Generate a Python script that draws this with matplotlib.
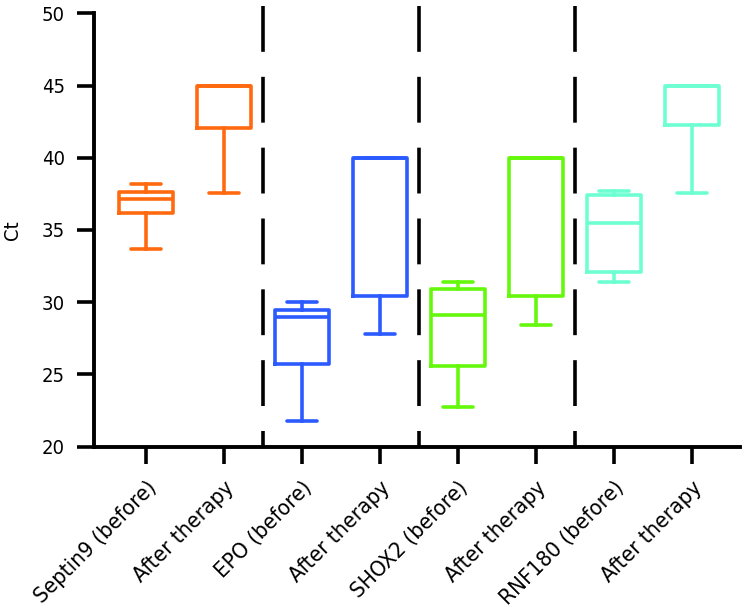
import matplotlib
matplotlib.use("Agg")
import matplotlib.pyplot as plt
from matplotlib import font_manager

categories = ["Septin9 (before)", "After therapy", "EPO (before)", "After therapy",
              "SHOX2 (before)", "After therapy", "RNF180 (before)", "After therapy"]
whislo = [33.7, 37.55, 21.75, 27.8, 22.75, 28.4, 31.4, 37.55]
q1     = [36.15, 42.05, 25.7, 30.4, 25.6, 30.4, 32.1, 42.3]
median = [37.15, 45.0, 28.95, 40.0, 29.1, 40.0, 35.45, 45.0]
q3     = [37.6, 45.0, 29.45, 40.0, 30.95, 40.0, 37.4, 45.0]
whishi = [38.2, 45.0, 30.05, 40.0, 31.4, 40.0, 37.7, 45.0]
colors = ["#FF6A10", "#FF6A10", "#2B5BFF", "#2B5BFF",
          "#66F80C", "#66F80C", "#6DFFD2", "#6DFFD2"]
separators = [2.5, 4.5, 6.5]
yticks = [20, 25, 30, 35, 40, 45, 50]

has_cond = any('DejaVuSansCondensed' in f.fname or f.stretch == 'condensed'
               for f in font_manager.fontManager.ttflist if 'DejaVu' in f.name)
plt.rcParams['font.family'] = ['DejaVu Sans']
plt.rcParams['font.stretch'] = 'condensed' if has_cond else 'normal'
plt.rcParams['lines.scale_dashes'] = False

fig = plt.figure(figsize=(7.48, 6.09), dpi=100)
ax = fig.add_axes([0.1257, 0.2665, 0.8633, 0.7117])

positions = list(range(1, len(categories) + 1))
for i, pos in enumerate(positions):
    st = [dict(med=median[i], q1=q1[i], q3=q3[i], whislo=whislo[i], whishi=whishi[i], fliers=[])]
    c = colors[i]
    ax.bxp(st, positions=[pos], widths=0.7, capwidths=0.38, showfliers=False,
           boxprops=dict(color=c, linewidth=2.6, solid_joinstyle='round'),
           medianprops=dict(color=c, linewidth=2.6, solid_capstyle='butt'),
           whiskerprops=dict(color=c, linewidth=2.6),
           capprops=dict(color=c, linewidth=2.6, solid_capstyle='round'),
           manage_ticks=False)

for s in separators:
    ax.plot([s, s], [50.5, 20], color='black', linewidth=2.6,
            dashes=(33, 18), clip_on=False, zorder=1)

xfs = 16 if has_cond else 14.5
yfs = 14.5 if has_cond else 13.5
ax.set_xlim(0.333, 8.615)
ax.set_ylim(20, 50)
ax.set_yticks(yticks)
ax.set_xticks(positions)
ax.set_xticklabels(categories, rotation=45, ha='right', va='top',
                   rotation_mode='anchor', fontsize=xfs)
ax.tick_params(axis='y', labelsize=yfs, length=12, width=2.6, pad=9)
ax.tick_params(axis='x', length=12, width=2.6, pad=10)
for side in ['top', 'right']:
    ax.spines[side].set_visible(False)
for side in ['left', 'bottom']:
    ax.spines[side].set_linewidth(2.8)
ax.set_ylabel("Ct", fontsize=yfs, labelpad=14)

fig.savefig("out.png", dpi=100)
